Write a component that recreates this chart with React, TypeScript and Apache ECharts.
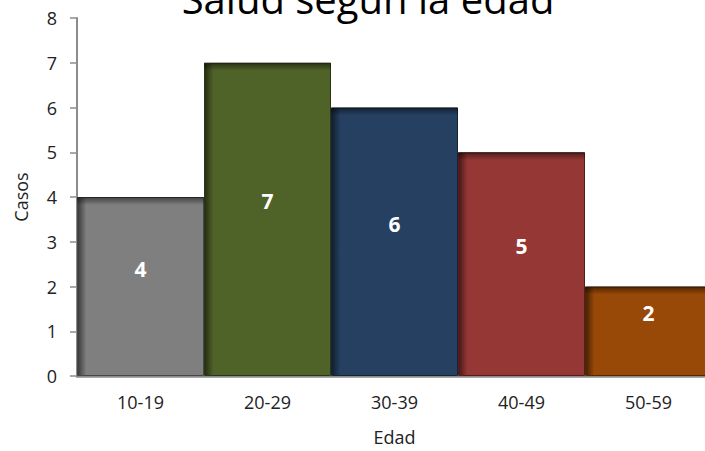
import React, { useEffect, useRef } from "react";
import * as echarts from "echarts";

const categories = ["10-19", "20-29", "30-39", "40-49", "50-59"];
const values = [4, 7, 6, 5, 2];
const barColors = ["#7f7f7f", "#4f6228", "#254061", "#953735", "#984807"];
const yTicks = [0, 1, 2, 3, 4, 5, 6, 7, 8];
const titleText = "Salud según la edad";
const xName = "Edad";
const yName = "Casos";

const FONT = "'Open Sans', 'Noto Sans', sans-serif";

function shade(hex: string, f: number) {
  const n = parseInt(hex.slice(1), 16);
  const r = Math.round(((n >> 16) & 255) * f);
  const g = Math.round(((n >> 8) & 255) * f);
  const b = Math.round((n & 255) * f);
  return `rgb(${r},${g},${b})`;
}

export default function App() {
  const ref = useRef<HTMLDivElement>(null);
  useEffect(() => {
    if (!ref.current) return;
    const chart = echarts.init(ref.current, null, { renderer: "svg" });
    const pxPerUnit = 360 / 8;
    chart.setOption({
      animation: false,
      backgroundColor: "#ffffff",
      graphic: [
        {
          type: "text",
          x: 368,
          y: -22,
          style: {
            text: titleText,
            fontFamily: FONT,
            fontSize: 40,
            fill: "#000",
            textAlign: "center",
            textVerticalAlign: "top",
          },
        },
      ],
      grid: { left: 77, top: 18, right: 0, height: 360, containLabel: false },
      xAxis: {
        type: "category",
        data: categories,
        name: xName,
        nameLocation: "middle",
        nameGap: 52,
        nameTextStyle: { fontFamily: FONT, fontSize: 18, color: "#222" },
        axisLine: { show: true, lineStyle: { color: "#8c8c8c", width: 2.5 } },
        axisTick: { show: false },
        axisLabel: { fontFamily: FONT, fontSize: 18, color: "#222", margin: 17 },
        splitLine: { show: false },
      },
      yAxis: {
        type: "value",
        min: yTicks[0],
        max: yTicks[yTicks.length - 1],
        interval: 1,
        name: yName,
        nameLocation: "middle",
        nameGap: 47,
        nameRotate: 90,
        nameTextStyle: { fontFamily: FONT, fontSize: 18, color: "#222" },
        axisLine: { show: true, lineStyle: { color: "#8c8c8c", width: 2 } },
        axisTick: { show: true, length: 7, lineStyle: { color: "#8c8c8c", width: 1.5 } },
        axisLabel: { fontFamily: FONT, fontSize: 18, color: "#222", margin: 20 },
        splitLine: { show: false },
      },
      series: [
        {
          type: "bar",
          barWidth: "100%",
          barGap: "-100%",
          data: values.map((v, i) => ({
            value: v,
            itemStyle: {
              borderColor: shade(barColors[i], 0.55),
              borderWidth: 1,
              color: {
                type: "linear",
                x: 0,
                y: 0,
                x2: 1,
                y2: 0,
                colorStops: [
                  { offset: 0, color: shade(barColors[i], 0.45) },
                  { offset: 0.07, color: barColors[i] },
                  { offset: 1, color: barColors[i] },
                ],
              },
            },
          })),
          label: {
            show: true,
            position: "inside",
            offset: [0, -18],
            color: "#ffffff",
            fontFamily: FONT,
            fontWeight: "bold",
            fontSize: 21,
          },
          z: 2,
        },
        {
          type: "bar",
          barWidth: "100%",
          barGap: "-100%",
          silent: true,
          data: values.map((v) => ({
            value: v,
            itemStyle: {
              color: {
                type: "linear",
                x: 0,
                y: 0,
                x2: 0,
                y2: 1,
                colorStops: [
                  { offset: 0, color: "rgba(0,0,0,0.5)" },
                  { offset: Math.min(1, 8 / (v * pxPerUnit)), color: "rgba(0,0,0,0)" },
                  { offset: 1, color: "rgba(0,0,0,0)" },
                ],
              },
            },
          })),
          label: { show: false },
          z: 3,
        },
      ],
    });
    return () => chart.dispose();
  }, []);
  return (
    <div
      ref={ref}
      style={{ position: "fixed", left: 0, top: 0, width: 712, height: 451 }}
    />
  );
}
